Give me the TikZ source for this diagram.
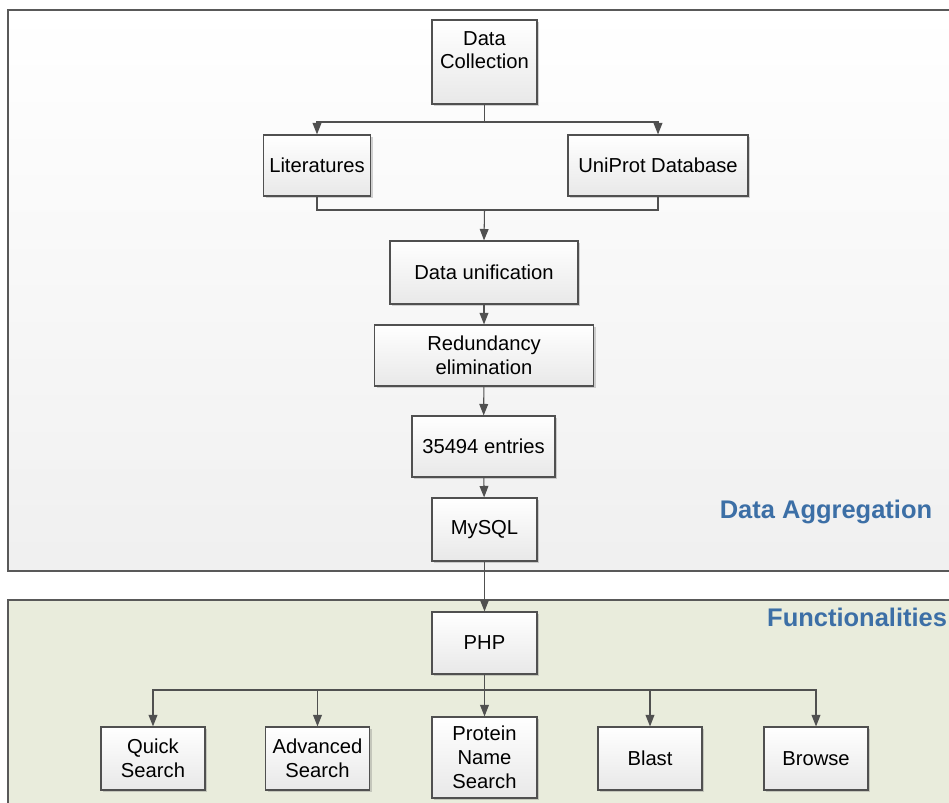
\documentclass[tikz,border=0pt]{standalone}
\usepackage{fontspec}
\setmainfont{Liberation Sans}
\usepackage{tikz}
\usetikzlibrary{arrows.meta, shadows}

\definecolor{paneltitle}{RGB}{60,111,166}
\definecolor{panelgreen}{RGB}{233,236,220}
\definecolor{linegray}{RGB}{80,80,80}

\begin{document}
\begin{tikzpicture}[x=0.02cm, y=0.02cm,
  every node/.style={font=\fontsize{11.5}{13.6}\selectfont},
  stepbox/.style={draw=linegray, line width=0.7pt, rectangle, align=center,
    top color=white, bottom color=gray!18, minimum height=1.22cm,
    drop shadow={opacity=0.35, shadow xshift=1.2pt, shadow yshift=-1.2pt}},
  arrow/.style={draw=linegray, line width=0.6pt, -{Triangle[width=5pt, length=6.5pt]}},
  link/.style={draw=linegray, line width=0.6pt},
  paneltext/.style={font=\fontsize{14.5}{17}\selectfont\bfseries, text=paneltitle}]
\useasboundingbox (0,0) rectangle (949,-802);
\clip (0,0) rectangle (949,-802);

% Paneles de fondo
\draw[gray!70!black, line width=0.6pt, top color=white, bottom color=gray!12] (8,-10) rectangle (970,-571);
\draw[gray!70!black, line width=0.6pt, fill=panelgreen] (8,-600) rectangle (970,-830);
\node[paneltext] (aggtitle) at (826,-512) {Data Aggregation};
\node[paneltext, anchor=west] (functitle) at (761,-617) {Functionalities};

% Agregacion de datos
\node (collect) at (484.5,-62) [stepbox, minimum width=2.1cm, minimum height=1.68cm] {Data\\Collection\\\mbox{}};
\node (lit) at (317,-165.5) [stepbox, minimum width=2.08cm] {Literatures};
\node (uniprot) at (658,-165.5) [stepbox, minimum width=3.6cm] {UniProt Database};
\node (unify) at (484,-272.5) [stepbox, minimum width=3.76cm, minimum height=1.26cm] {Data unification};
\node (redund) at (484,-355.5) [stepbox, minimum width=4.38cm] {Redundancy\\elimination};
\node (entries) at (483.5,-446.5) [stepbox, minimum width=2.86cm] {35494 entries};
\node (mysql) at (484.5,-529.5) [stepbox, minimum width=2.1cm, minimum height=1.26cm] {MySQL};

% Funcionalidades
\node (php) at (484.5,-643) [stepbox, minimum width=2.1cm, minimum height=1.24cm] {PHP};
\node (quick) at (153,-758.5) [stepbox, minimum width=2.08cm, minimum height=1.26cm] {Quick\\Search};
\node (advanced) at (317.5,-758.5) [stepbox, minimum width=2.08cm, minimum height=1.26cm] {Advanced\\Search};
\node (protname) at (484.5,-757.5) [stepbox, minimum width=2.1cm, minimum height=1.62cm] {Protein\\Name\\Search};
\node (blast) at (650,-758.5) [stepbox, minimum width=2.08cm, minimum height=1.26cm] {Blast};
\node (browse) at (816,-758.5) [stepbox, minimum width=2.08cm, minimum height=1.26cm] {Browse};

% Puntos de union
\coordinate (fork) at (484.5,-122);
\coordinate (merge) at (484.5,-210);
\coordinate (split) at (484.5,-690);

% Flechas de conexion
\draw[link] (collect.south) -- (fork);
\draw[arrow] (fork) -| (lit.north);
\draw[arrow] (fork) -| (uniprot.north);
\draw[link] (lit.south) |- (merge) -| (uniprot.south);
\draw[arrow] (merge) -- (unify.north);
\draw[arrow] (unify) -- (redund);
\draw[arrow] (redund) -- (entries);
\draw[arrow] (entries) -- (mysql);
\draw[arrow] (mysql) -- (php);
\draw[arrow] (php) -- (protname);
\draw[arrow] (split) -| (quick.north);
\draw[arrow] (split) -| (advanced.north);
\draw[arrow] (split) -| (blast.north);
\draw[arrow] (split) -| (browse.north);
\end{tikzpicture}
\end{document}
